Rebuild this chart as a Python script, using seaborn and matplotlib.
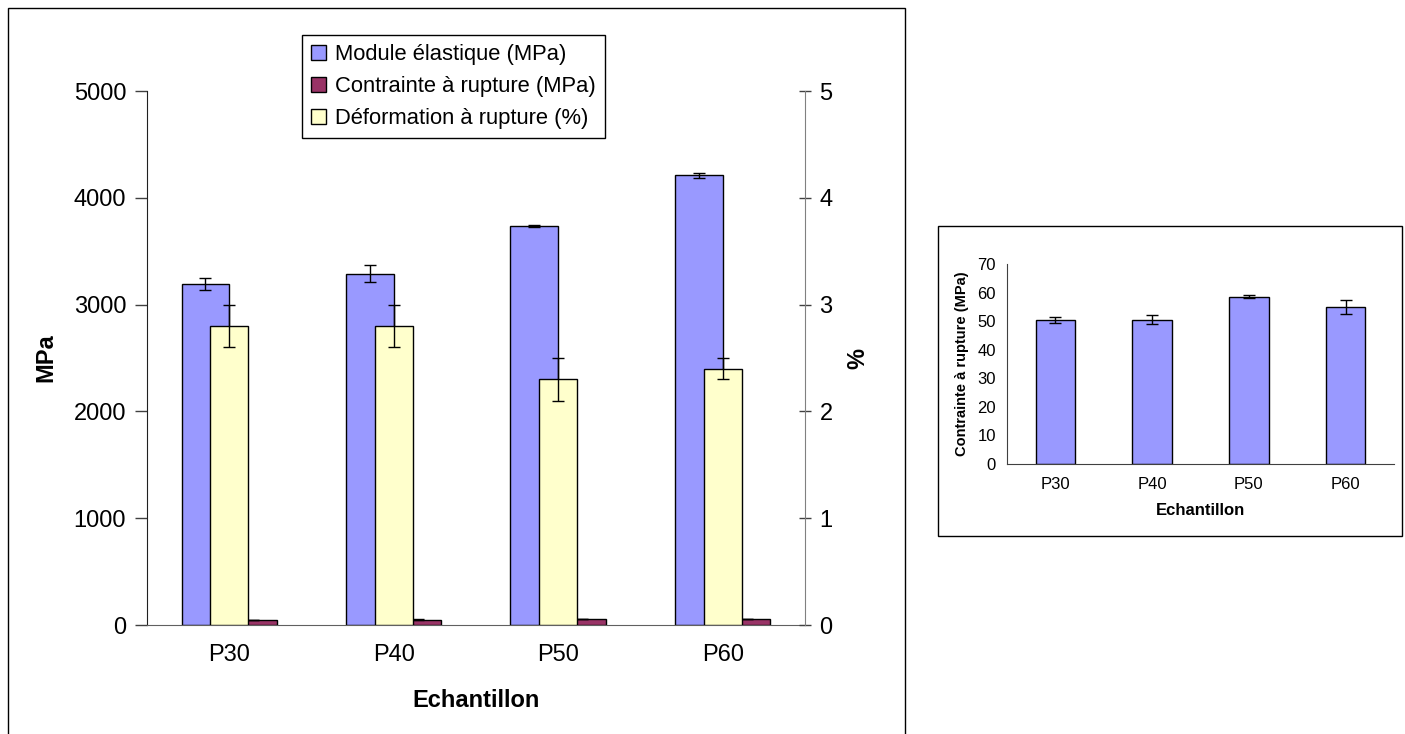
import matplotlib.pyplot as plt
import matplotlib.patches as mpatches
from matplotlib.ticker import FixedLocator
import seaborn as sns
import pandas as pd

# donnees
echantillons = ["P30", "P40", "P50", "P60"]
module = [3190, 3290, 3740, 4210]
module_err = [55, 80, 10, 25]
contrainte = [50.5, 50.5, 58.5, 55.0]
contrainte_err = [1.0, 1.5, 0.5, 2.5]
deformation = [2.8, 2.8, 2.3, 2.4]
deformation_err = [0.2, 0.2, 0.2, 0.1]

noms = ["Module élastique (MPa)", "Contrainte à rupture (MPa)", "Déformation à rupture (%)"]
bleu, bordeaux, jaune = "#9999FF", "#993366", "#FFFFCC"

sns.set_style("white")
plt.rcParams["font.family"] = ["Liberation Sans", "DejaVu Sans"]
plt.rcParams["text.color"] = "black"
plt.rcParams["axes.labelcolor"] = "black"
plt.rcParams["xtick.labelcolor"] = "black"
plt.rcParams["ytick.labelcolor"] = "black"

df = pd.DataFrame({
    "Echantillon": echantillons * 2,
    "val": module + contrainte,
    "Serie": [noms[0]] * 4 + [noms[1]] * 4,
})

fig = plt.figure(figsize=(14.05, 7.34), dpi=100)

# cadres
fig.add_artist(mpatches.Rectangle((0.0057, -0.01), 0.6385, 0.999, transform=fig.transFigure,
                                  fill=False, edgecolor="black", linewidth=1))
fig.add_artist(mpatches.Rectangle((0.6676, 0.2698), 0.3305, 0.4223, transform=fig.transFigure,
                                  fill=False, edgecolor="black", linewidth=1))

# graphique principal
ax = fig.add_axes([0.1046, 0.1485, 0.4683, 0.7275])
sns.barplot(data=df, x="Echantillon", y="val", hue="Serie", palette=[bleu, bordeaux],
            width=0.58, saturation=1, edgecolor="black", linewidth=1, legend=False, ax=ax)
barres = ax.patches
xs = [p.get_x() + p.get_width() / 2 for p in barres]
ax.errorbar(xs[:4], module, yerr=module_err, fmt="none", ecolor="black", elinewidth=1, capsize=4.5, capthick=1)
ax.errorbar(xs[4:8], contrainte, yerr=contrainte_err, fmt="none", ecolor="black", elinewidth=1, capsize=4.5, capthick=1)

ax2 = ax.twinx()
sns.barplot(x=echantillons, y=deformation, color=jaune, width=0.23, saturation=1,
            edgecolor="black", linewidth=1, ax=ax2)
xs2 = [p.get_x() + p.get_width() / 2 for p in ax2.patches]
ax2.errorbar(xs2, deformation, yerr=deformation_err, fmt="none", ecolor="black", elinewidth=1, capsize=4.5, capthick=1)

ax.set_ylim(0, 5000)
ax2.set_ylim(0, 5)
ax.set_yticks(range(0, 5001, 1000))
ax2.set_yticks(range(0, 6))
for a in (ax, ax2):
    a.set_xlim(-0.5, 3.5)
ax.set_xticks(range(4))
ax.set_xticklabels(echantillons)
ax.xaxis.set_minor_locator(FixedLocator([-0.5, 0.5, 1.5, 2.5, 3.5]))
ax.tick_params(axis="x", which="major", length=0, labelsize=17, pad=14)
ax.tick_params(axis="x", which="minor", length=7, width=1, color="#606060", direction="out")
ax.tick_params(axis="y", length=9, width=1, direction="out", labelsize=17, pad=6, color="#404040")
ax2.tick_params(axis="y", length=9, width=1, direction="inout", labelsize=17, pad=6, color="#404040")

for s in ["top", "right"]:
    ax.spines[s].set_visible(False)
for s in ["top", "left", "bottom"]:
    ax2.spines[s].set_visible(False)
ax.spines["left"].set_color("#202020")
ax.spines["bottom"].set_color("#606060")
ax2.spines["right"].set_color("#808080")

ax.set_xlabel("Echantillon", fontsize=17, fontweight="bold", labelpad=16)
ax.set_ylabel("MPa", fontsize=17, fontweight="bold", labelpad=12)
ax2.set_ylabel("%", fontsize=17, fontweight="bold", labelpad=10)

poignees = [mpatches.Patch(facecolor=c, edgecolor="black", linewidth=1) for c in (bleu, bordeaux, jaune)]
fig.legend(poignees, noms, loc="upper left", bbox_to_anchor=(0.215, 0.952), fontsize=15.8,
           frameon=True, fancybox=False, edgecolor="black", framealpha=1,
           handlelength=0.7, handleheight=0.7, handletextpad=0.4, labelspacing=0.5,
           borderpad=0.4, borderaxespad=0)

# petit graphique
ax3 = fig.add_axes([0.7167, 0.3678, 0.2754, 0.2725])
sns.barplot(x=echantillons, y=contrainte, color=bleu, width=0.41, saturation=1,
            edgecolor="black", linewidth=1, ax=ax3)
xs3 = [p.get_x() + p.get_width() / 2 for p in ax3.patches]
ax3.errorbar(xs3, contrainte, yerr=contrainte_err, fmt="none", ecolor="black", elinewidth=1, capsize=4, capthick=1)
ax3.set_xlim(-0.5, 3.5)
ax3.set_ylim(0, 70)
ax3.set_yticks(range(0, 71, 10))
ax3.xaxis.set_minor_locator(FixedLocator([-0.5, 0.5, 1.5, 2.5, 3.5]))
ax3.tick_params(axis="x", which="major", length=0, labelsize=12, pad=9)
ax3.tick_params(axis="x", which="minor", length=5, width=1, color="#404040", direction="out")
ax3.tick_params(axis="y", length=5, width=1, direction="out", labelsize=12, pad=3, color="#404040")
for s in ["top", "right"]:
    ax3.spines[s].set_visible(False)
ax3.spines["left"].set_color("#404040")
ax3.spines["bottom"].set_color("#404040")
ax3.set_xlabel("Echantillon", fontsize=12, fontweight="bold", labelpad=8)
ax3.set_ylabel("Contrainte à rupture (MPa)", fontsize=10.5, fontweight="bold", labelpad=6)

fig.savefig("out.png", dpi=100)
